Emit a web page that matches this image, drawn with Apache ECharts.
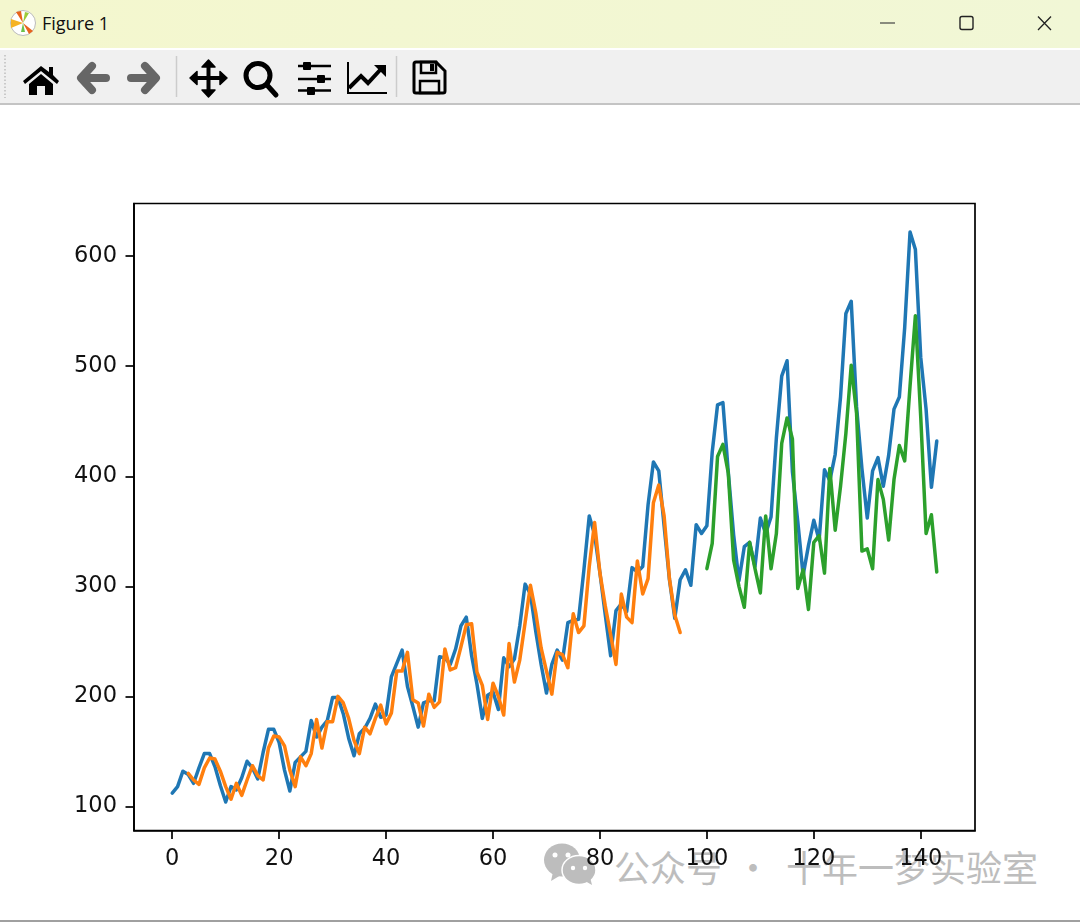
<!DOCTYPE html>
<html><head><meta charset="utf-8">
<script src="https://cdn.jsdelivr.net/npm/echarts@6/dist/echarts.min.js"></script>
<style>
html,body{margin:0;padding:0;width:1080px;height:922px;overflow:hidden;background:#fff}
#titlebar{position:absolute;left:0;top:0;width:1080px;height:48px;background:linear-gradient(90deg,#f4f7ce,#f1f7d6)}
#title{position:absolute;left:42px;top:11px;font:18px "Open Sans","Noto Sans",sans-serif;color:#111}
#toolbar{position:absolute;left:0;top:50px;width:1080px;height:53px;background:#f0f0f0;border-bottom:2px solid #c4c4c4}
#bottomline{position:absolute;left:0;top:920px;width:1080px;height:2px;background:#a0a0a0}
svg.chrome{position:absolute;left:0;top:0}
#wm{position:absolute;left:0;top:0;width:1080px;height:922px;color:#bdbdbd;font:36px "Noto Sans CJK SC",sans-serif}
#wm span{position:absolute;top:840px;white-space:nowrap;line-height:52px}
#chart{position:absolute;left:0;top:0;width:1080px;height:922px}
</style></head><body>
<div id="titlebar"><div id="title">Figure 1</div></div>
<div id="toolbar"></div>
<div id="bottomline"></div>
<svg class="chrome" width="1080" height="110" viewBox="0 0 1080 110">
  <circle cx="23" cy="23" r="12.5" fill="#fff" stroke="#bbb"/>
  <path d="M23 23L16 12L21 11Z" fill="#e8641b"/><path d="M23 23L11 19L11 28Z" fill="#f5b324"/>
  <path d="M23 23L29 13L25 12Z" fill="#9ccb3b"/><path d="M23 23L33 31L29 34Z" fill="#e8641b"/>
  <path d="M23 23L21 32L25 32Z" fill="#6cc24a"/>
  <path d="M880 23H895" stroke="#444" stroke-width="1.2"/>
  <rect x="960" y="16.5" width="13" height="13" rx="2" fill="none" stroke="#222" stroke-width="1.4"/>
  <path d="M1038 16.5L1051 30M1051 16.5L1038 30" stroke="#222" stroke-width="1.3"/>
  <path d="M5 55V98" stroke="#bdbdbd" stroke-width="1.5" stroke-dasharray="1.5 2"/>
  <path d="M23 81L41 66L49 72V67H53V75L59 81L57 84L41 71L25 84Z" fill="#000"/>
  <path d="M29 84L41 74L53 84V95H45V86H37V95H29Z" fill="#000"/>
  <path d="M92 66L81 78L92 90M82 78H106" fill="none" stroke="#666" stroke-width="8" stroke-linecap="round" stroke-linejoin="round"/>
  <path d="M145 66L156 78L145 90M155 78H131" fill="none" stroke="#666" stroke-width="8" stroke-linecap="round" stroke-linejoin="round"/>
  <line x1="176.5" y1="56" x2="176.5" y2="97" stroke="#ccc" stroke-width="1.5"/>
  <path d="M193 78H224M208.5 63V94" stroke="#000" stroke-width="4"/>
  <path d="M208.5 60L215 67H202ZM208.5 97L215 90H202ZM190 78L197 71.5V84.5ZM227 78L220 71.5V84.5Z" fill="#000" stroke="#000" stroke-width="1.5" stroke-linejoin="round"/>
  <circle cx="258" cy="75.500" r="12" fill="none" stroke="#000" stroke-width="5"/>
  <path d="M267 85L276 95" stroke="#000" stroke-width="5" stroke-linecap="round"/>
  <path d="M298 66H331M298 79H331M298 90.500H331" stroke="#000" stroke-width="2.500"/>
  <rect x="303" y="62" width="8" height="8" rx="1" fill="#000"/><rect x="317" y="75" width="8" height="8" rx="1" fill="#000"/><rect x="307" y="87" width="8" height="8" rx="1" fill="#000"/>
  <path d="M348 62V93H387" fill="none" stroke="#000" stroke-width="2"/>
  <path d="M349 88L361 76L368 83L381 69" fill="none" stroke="#000" stroke-width="4"/>
  <path d="M374 65H386V77Z" fill="#000"/>
  <line x1="396.5" y1="56" x2="396.5" y2="97" stroke="#ccc" stroke-width="1.5"/>
  <path d="M414 64A2 2 0 0 1 416 62H436L445 71V91A2 2 0 0 1 443 93H416A2 2 0 0 1 414 91Z" fill="none" stroke="#000" stroke-width="3"/>
  <rect x="421" y="62" width="15" height="11" fill="none" stroke="#000" stroke-width="2.5"/>
  <rect x="430" y="64" width="4" height="7" fill="#000"/>
  <rect x="420" y="81" width="19" height="12" fill="none" stroke="#000" stroke-width="2.5"/>
</svg>
<div id="wm">
  <svg width="1080" height="922" style="position:absolute;left:0;top:0">
    <ellipse cx="562" cy="860" rx="18" ry="16.5" fill="#bdbdbd"/><path d="M553 872L551 881L561 875Z" fill="#bdbdbd"/>
    <circle cx="555" cy="855" r="2.5" fill="#fff"/><circle cx="568" cy="855" r="2.5" fill="#fff"/>
    <ellipse cx="579" cy="870" rx="17" ry="14.5" stroke="#fff" stroke-width="1.5" fill="#bdbdbd"/><path d="M585 881L592 885L590 877Z" fill="#bdbdbd"/>
    <circle cx="573" cy="868" r="2.2" fill="#fff"/><circle cx="585" cy="868" r="2.2" fill="#fff"/>
  </svg>
  <span style="left:614px">公众号</span><span style="left:735px">·</span><span style="left:786px">十年一梦实验室</span>
</div>
<div id="chart"></div>
<script>
const passengers = [112,118,132,129,121,135,148,148,136,119,104,118,115,126,141,135,125,149,170,170,158,133,114,140,145,150,178,163,172,178,199,199,184,162,146,166,171,180,193,181,183,218,230,242,209,191,172,194,196,196,236,235,229,243,264,272,237,211,180,201,204,188,235,227,234,264,302,293,259,229,203,229,242,233,267,269,270,315,364,347,312,274,237,278,284,277,317,313,318,374,413,405,355,306,271,306,315,301,356,348,355,422,465,467,404,347,305,336,340,318,362,348,363,435,491,505,404,359,310,337,360,342,406,396,420,472,548,559,463,407,362,405,417,391,419,461,472,535,622,606,508,461,390,432];
const trainStart = 3;
const trainPredict = [130,124,120,135,144,143,132,118,106.5,121,110,124,137,128,124,153,164,163,155,133,118,145,137,148,179,153,177,177,200,194,180,160,148,172,166,180,192,175,185,223,223,240,197,194,173,202,190,195,243,224,226,245,265,266,222,210,179,212,200,183,248,213,233,267,301,276,244,223,202,240,238,226,275,258,264,318,358,312,282,256,229,293,272,267,323,293,307,376,392,364,307,274,258];
const testStart = 100;
const testPredict = [316,339,418,429,403,324,300,281,340,316,294,364,316,348,430,453,434,298,315,279,340,346,312,407,351,391,439,501,457,332,334,316,397,379,342,397,428,414,482,546,454,348,365,313];
const xTicks = [0,20,40,60,80,100,120,140];
const yTicks = [100,200,300,400,500,600];
const toPairs = (vals, start) => vals.map((v, i) => [start + i, v]);
const tickFont = {color:'#111', fontFamily:'"DejaVu Sans"', fontSize:22.5};
const mkSeries = (data, color) => ({type:'line', data, showSymbol:false, symbol:'none', smooth:false, animation:false, clip:false,
  lineStyle:{color, width:3.5, cap:'round', join:'round'}});
const chart = echarts.init(document.getElementById('chart'), null, {renderer:'canvas', width:1080, height:922});
chart.setOption({
  backgroundColor:'transparent',
  animation:false,
  grid:{left:134, top:203.5, width:841, height:627, show:true, borderColor:'#000', borderWidth:1.7, backgroundColor:'transparent'},
  xAxis:{type:'value', min:-7.15, max:150.15, splitLine:{show:false},
    axisLine:{show:true, onZero:false, lineStyle:{color:'#000', width:1.7}},
    axisTick:{show:true, length:8.5, customValues:xTicks, lineStyle:{color:'#000', width:1.7}},
    axisLabel:{...tickFont, margin:17, customValues:xTicks, showMinLabel:true, showMaxLabel:true}},
  yAxis:{type:'value', min:78.1, max:647.9, splitLine:{show:false},
    axisLine:{show:true, onZero:false, lineStyle:{color:'#000', width:1.7}},
    axisTick:{show:true, length:8.5, customValues:yTicks, lineStyle:{color:'#000', width:1.7}},
    axisLabel:{...tickFont, margin:17, customValues:yTicks, showMinLabel:true, showMaxLabel:true}},
  series:[
    mkSeries(toPairs(passengers,0), '#1f77b4'),
    mkSeries(toPairs(trainPredict,trainStart), '#ff7f0e'),
    mkSeries(toPairs(testPredict,testStart), '#2ca02c')
  ]
});
</script>
</body></html>
